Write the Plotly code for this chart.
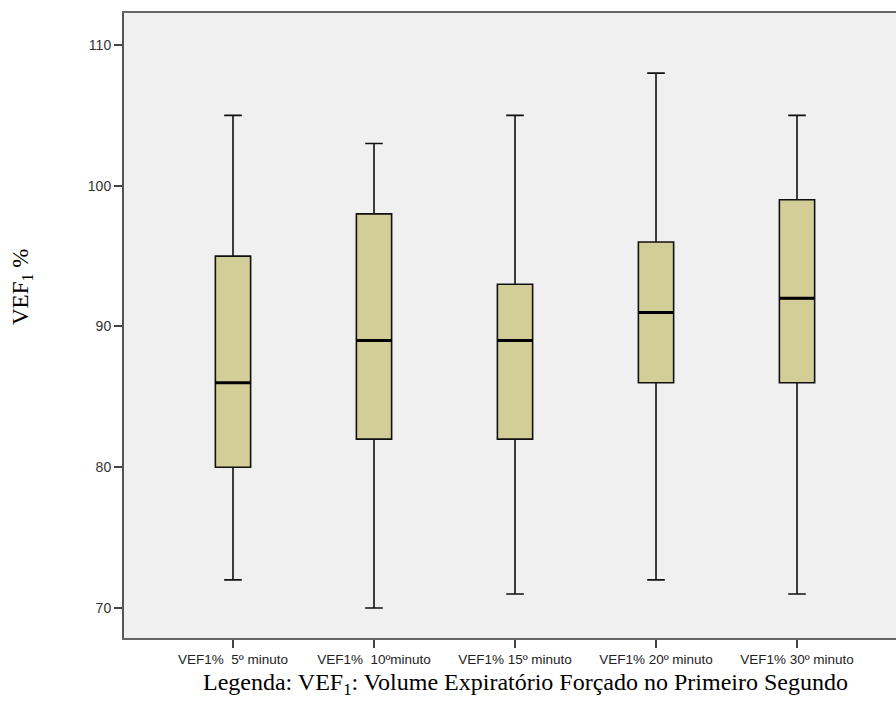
import plotly.graph_objects as go

categories = ["VEF1%  5º minuto", "VEF1%  10ºminuto", "VEF1% 15º minuto", "VEF1% 20º minuto", "VEF1% 30º minuto"]
lower_whisker = [72, 70, 71, 72, 71]
q1_values = [80, 82, 82, 86, 86]
median_values = [86, 89, 89, 91, 92]
q3_values = [95, 98, 93, 96, 99]
upper_whisker = [105, 103, 105, 108, 105]
y_ticks = [70, 80, 90, 100, 110]

BOX_W = 0.25
fig = go.Figure()
for i, name in enumerate(categories):
    fig.add_trace(go.Box(
        x=[i], q1=[q1_values[i]], median=[median_values[i]], q3=[q3_values[i]],
        lowerfence=[lower_whisker[i]], upperfence=[upper_whisker[i]],
        width=BOX_W, whiskerwidth=0.5,
        fillcolor="rgb(211,206,151)",
        line=dict(color="#111111", width=1.6),
        name=name, showlegend=False, hoverinfo="skip",
    ))
    fig.add_shape(type="line", xref="x", yref="y",
                  x0=i - BOX_W / 2, x1=i + BOX_W / 2,
                  y0=median_values[i], y1=median_values[i],
                  line=dict(color="black", width=3))

fig.update_layout(
    width=896, height=713,
    margin=dict(l=124, r=0, t=13, b=75),
    paper_bgcolor="white", plot_bgcolor="#f0f0f0",
    font=dict(family="Liberation Sans, Arial", size=13, color="#333333"),
    xaxis=dict(range=[-0.773, 4.702], tickvals=list(range(len(categories))),
               ticktext=categories, showgrid=False, zeroline=False,
               showline=True, linecolor="#666666", linewidth=2, mirror=True,
               ticks="outside", ticklen=8, tickcolor="#444444", tickwidth=1.5,
               tickfont=dict(size=13.5, color="#222222")),
    yaxis=dict(range=[67.87, 112.27], tickvals=y_ticks, showgrid=False,
               zeroline=False, showline=True, linecolor="#555555", linewidth=2,
               ticks="outside", ticklen=8, tickcolor="#444444", tickwidth=1.5,
               tickfont=dict(size=14, color="#333333")),
    annotations=[
        dict(text="VEF<sub>1</sub> %", xref="paper", yref="paper",
             x=-124 / 772 + 22 / 772, y=(638 - 287) / 625, textangle=-90,
             showarrow=False, xanchor="center", yanchor="middle",
             font=dict(family="Liberation Serif, Times New Roman", size=23, color="black")),
        dict(text="Legenda: VEF<sub>1</sub>: Volume Expiratório Forçado no Primeiro Segundo",
             xref="paper", yref="paper", x=(525 - 124) / 772, y=-(684 - 638) / 625,
             showarrow=False, xanchor="center", yanchor="middle",
             font=dict(family="Liberation Serif, Times New Roman", size=24, color="black")),
    ],
)

fig.write_html("out.html")
